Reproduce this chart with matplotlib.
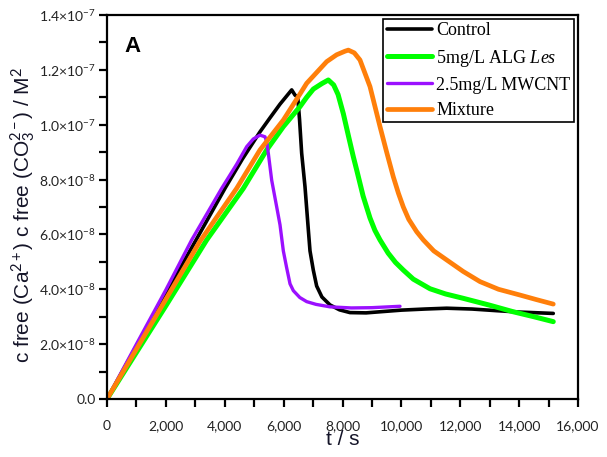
"""Free ion product vs time, four conditions (panel A)"""
import numpy as np
import matplotlib
matplotlib.use("Agg")
import matplotlib.pyplot as plt
from matplotlib.ticker import MultipleLocator, FuncFormatter

# values, t in s, c in M^2
control_t = [0, 1000, 2000, 3000, 4008, 4600, 5197, 5537, 5877, 6274, 6386, 6480, 6540,
             6613, 6726, 6840, 6896, 7008, 7122, 7300, 7575, 7900, 8255, 8800, 9274,
             10000, 10800, 11539, 12400, 13238, 14000, 15160]
control_c = [0, 1.93e-8, 3.85e-8, 5.75e-8, 7.68e-8, 8.75e-8, 9.74e-8, 10.25e-8, 10.75e-8,
             11.27e-8, 11.08e-8, 11.0e-8, 10.2e-8, 8.96e-8, 7.74e-8, 6.16e-8, 5.4e-8,
             4.70e-8, 4.12e-8, 3.72e-8, 3.43e-8, 3.25e-8, 3.15e-8, 3.14e-8, 3.18e-8,
             3.24e-8, 3.28e-8, 3.31e-8, 3.28e-8, 3.22e-8, 3.17e-8, 3.12e-8]

alg_t = [0, 1000, 2000, 3387, 4632, 5424, 5990, 6556, 6783, 7010, 7300, 7518, 7700, 7850,
         8029, 8200, 8368, 8482, 8700, 8934, 9100, 9274, 9550, 9800, 10066, 10405, 10972,
         11500, 12103, 13000, 13801, 14500, 15160]
alg_c = [0, 1.70e-8, 3.40e-8, 5.80e-8, 7.68e-8, 9.08e-8, 9.93e-8, 10.66e-8, 11.0e-8,
         11.3e-8, 11.5e-8, 11.63e-8, 11.45e-8, 11.1e-8, 10.4e-8, 9.6e-8, 8.83e-8, 8.35e-8,
         7.4e-8, 6.6e-8, 6.15e-8, 5.8e-8, 5.32e-8, 4.98e-8, 4.70e-8, 4.37e-8, 4.02e-8,
         3.83e-8, 3.67e-8, 3.42e-8, 3.18e-8, 3.0e-8, 2.82e-8]

cnt_t = [0, 1000, 2000, 2877, 3896, 4400, 4746, 4970, 5197, 5367, 5424, 5480, 5594, 5765,
         5877, 5990, 6100, 6217, 6330, 6550, 6783, 7100, 7575, 8300, 9000, 9953]
cnt_c = [0, 2.0e-8, 3.98e-8, 5.80e-8, 7.68e-8, 8.55e-8, 9.2e-8, 9.48e-8, 9.62e-8, 9.56e-8,
         9.38e-8, 8.96e-8, 7.98e-8, 7.0e-8, 6.35e-8, 5.4e-8, 4.8e-8, 4.2e-8, 3.95e-8,
         3.7e-8, 3.55e-8, 3.45e-8, 3.36e-8, 3.32e-8, 3.33e-8, 3.38e-8]

mix_t = [0, 1000, 2000, 3159, 4405, 5197, 5990, 6556, 6783, 7463, 7800, 8085, 8198, 8400,
         8594, 8934, 9274, 9500, 9726, 9900, 10066, 10250, 10519, 10745, 11100, 11539,
         12100, 12670, 13300, 14029, 14600, 15160]
mix_c = [0, 1.82e-8, 3.64e-8, 5.75e-8, 7.68e-8, 9.08e-8, 10.17e-8, 11.12e-8, 11.51e-8,
         12.3e-8, 12.55e-8, 12.68e-8, 12.72e-8, 12.62e-8, 12.36e-8, 11.39e-8, 9.93e-8,
         9.0e-8, 8.1e-8, 7.5e-8, 7.0e-8, 6.55e-8, 6.1e-8, 5.8e-8, 5.4e-8, 5.07e-8,
         4.65e-8, 4.28e-8, 4.0e-8, 3.79e-8, 3.62e-8, 3.46e-8]

labels = ["Control", "5mg/L ALG $\\mathit{Les}$", "2.5mg/L MWCNT", "Mixture"]
colors = ["#000000", "#00ff00", "#9b10ff", "#ff7f0a"]
widths = [2.6, 3.6, 2.4, 3.4]

plt.rcParams["mathtext.fontset"] = "custom"
plt.rcParams["mathtext.rm"] = "Lato"
plt.rcParams["mathtext.it"] = "Liberation Serif:italic"
plt.rcParams["mathtext.bf"] = "Lato:bold"

INK = "#141428"

fig = plt.figure(figsize=(6.07, 4.57), dpi=100)
ax = fig.add_axes([107 / 607, 1 - 399 / 457, 471 / 607, 384 / 457])

series = [(control_t, control_c), (alg_t, alg_c), (cnt_t, cnt_c), (mix_t, mix_c)]
for (t, c), lab, col, lw in zip(series, labels, colors, widths):
    ax.plot(t, c, color=col, lw=lw, label=lab, solid_capstyle="round",
            solid_joinstyle="round")

ax.set_xlim(0, 16000)
ax.set_ylim(0, 1.4e-7)
ax.xaxis.set_major_locator(MultipleLocator(2000))
ax.xaxis.set_minor_locator(MultipleLocator(1000))
ax.yaxis.set_major_locator(MultipleLocator(2e-8))
ax.yaxis.set_minor_locator(MultipleLocator(1e-8))


def sci(v, pos):
    if abs(v) < 1e-15:
        return "0.0"
    e = int(np.floor(np.log10(abs(v)) + 1e-9))
    return r"$%.1f{\times}10^{%d}$" % (v / 10 ** e, e)


ax.yaxis.set_major_formatter(FuncFormatter(sci))
ax.xaxis.set_major_formatter(FuncFormatter(lambda v, p: "{:,.0f}".format(v)))

ax.tick_params(which="both", direction="out", length=6, width=1.6, colors="black",
               top=False, right=False)
ax.tick_params(axis="x", pad=9)
ax.tick_params(axis="y", pad=2)
for lab in ax.get_xticklabels() + ax.get_yticklabels():
    lab.set_fontfamily("Lato")
    lab.set_fontsize(10)
    lab.set_color("#222222")
for s in ax.spines.values():
    s.set_linewidth(1.6)

ax.set_xlabel("t / s", fontsize=15, color=INK, family="Liberation Sans")
ax.xaxis.set_label_coords(0.5, -0.082)
ax.set_ylabel("c free (Ca$^{2+}$) c free (CO$_3^{2-}$) / M$^2$", fontsize=15,
              color=INK, family="Liberation Sans")
ax.yaxis.set_label_coords(-0.148, 0.48)

ax.text(0.055, 0.917, "A", transform=ax.transAxes, fontsize=16, fontweight="bold",
        family="Liberation Sans", ha="center", va="center")

leg = ax.legend(loc="upper right", bbox_to_anchor=(0.9915, 0.99), borderaxespad=0,
                prop={"family": "Liberation Serif", "size": 13}, frameon=True,
                fancybox=False, edgecolor="black", framealpha=1, handlelength=2.5,
                handletextpad=0.25, borderpad=0.2, labelspacing=0.45)
leg.get_frame().set_linewidth(1.2)
for h, lw in zip(leg.get_lines(), widths):
    h.set_linewidth(lw)

fig.savefig("out.png", dpi=100)
